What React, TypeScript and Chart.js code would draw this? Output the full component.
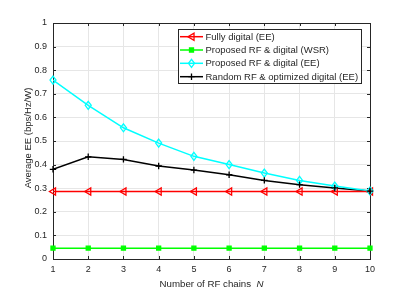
import React, { useEffect, useRef } from "react";
import { Chart, registerables } from "chart.js";

Chart.register(...registerables);

const categories = [1, 2, 3, 4, 5, 6, 7, 8, 9, 10];
const fullyDigital = [0.286, 0.286, 0.286, 0.286, 0.286, 0.286, 0.286, 0.286, 0.286, 0.286];
const proposedWSR = [0.046, 0.046, 0.046, 0.046, 0.046, 0.046, 0.046, 0.046, 0.046, 0.046];
const proposedEE = [0.758, 0.651, 0.556, 0.491, 0.435, 0.4, 0.364, 0.333, 0.309, 0.288];
const randomRF = [0.38, 0.433, 0.422, 0.394, 0.377, 0.357, 0.333, 0.315, 0.301, 0.288];
const yTicks = [0, 0.1, 0.2, 0.3, 0.4, 0.5, 0.6, 0.7, 0.8, 0.9, 1];
const legendLabels = [
  "Fully digital (EE)",
  "Proposed RF & digital (WSR)",
  "Proposed RF & digital (EE)",
  "Random RF & optimized digital (EE)",
];

const FONT = "Liberation Sans, Arial, Helvetica, sans-serif";
const TXT = "#262626";
const STYLES = ["triLeft", "rect", "diamond", "plus"];
const RADII = [3.6, 2, 4, 3.2];

function marker(ctx: any, style: string, x: number, y: number, r: number, color: string, fill: string) {
  ctx.save();
  ctx.strokeStyle = color;
  ctx.fillStyle = fill;
  ctx.lineWidth = 1.3;
  ctx.beginPath();
  if (style === "triLeft") {
    ctx.moveTo(x - r, y);
    ctx.lineTo(x + r * 0.7, y - r);
    ctx.lineTo(x + r * 0.7, y + r);
    ctx.closePath();
    ctx.fill();
    ctx.stroke();
  } else if (style === "rect") {
    ctx.rect(x - r, y - r, 2 * r, 2 * r);
    ctx.fill();
    ctx.stroke();
  } else if (style === "diamond") {
    ctx.moveTo(x, y - r);
    ctx.lineTo(x + r * 0.75, y);
    ctx.lineTo(x, y + r);
    ctx.lineTo(x - r * 0.75, y);
    ctx.closePath();
    ctx.fill();
    ctx.stroke();
  } else {
    ctx.moveTo(x - r, y);
    ctx.lineTo(x + r, y);
    ctx.moveTo(x, y - r);
    ctx.lineTo(x, y + r);
    ctx.stroke();
  }
  ctx.restore();
}

const overlay = {
  id: "overlay",
  beforeDatasetsDraw(chart: any) {
    const { ctx, chartArea: a } = chart;
    ctx.save();
    ctx.strokeStyle = "#262626";
    ctx.lineWidth = 1;
    ctx.strokeRect(Math.round(a.left) + 0.5, Math.round(a.top) + 0.5, Math.round(a.right - a.left), Math.round(a.bottom - a.top));
    const xs = chart.scales.x;
    const ys = chart.scales.y;
    ctx.beginPath();
    categories.forEach((c) => {
      const px = Math.round(xs.getPixelForValue(c)) + 0.5;
      ctx.moveTo(px, a.bottom);
      ctx.lineTo(px, a.bottom - 3);
      ctx.moveTo(px, a.top);
      ctx.lineTo(px, a.top + 3);
    });
    yTicks.forEach((v) => {
      const py = Math.round(ys.getPixelForValue(v)) + 0.5;
      ctx.moveTo(a.left, py);
      ctx.lineTo(a.left + 3, py);
      ctx.moveTo(a.right, py);
      ctx.lineTo(a.right - 3, py);
    });
    ctx.stroke();
    ctx.restore();
  },
  afterDatasetsDraw(chart: any) {
    const { ctx } = chart;
    chart.data.datasets.forEach((ds: any, i: number) => {
      const meta = chart.getDatasetMeta(i);
      meta.data.forEach((pt: any) => {
        marker(ctx, STYLES[i], pt.x, pt.y, RADII[i], ds.borderColor, i === 1 ? ds.borderColor : "rgba(0,0,0,0)");
      });
    });
  },
  afterDraw(chart: any) {
    const { ctx, chartArea: a } = chart;
    ctx.save();
    ctx.fillStyle = TXT;
    ctx.textBaseline = "alphabetic";
    const t1 = "Number of RF chains  ";
    ctx.font = `9.7px ${FONT}`;
    const w1 = ctx.measureText(t1).width;
    ctx.font = `italic 9.7px ${FONT}`;
    const w2 = ctx.measureText("N").width;
    const cx = (a.left + a.right) / 2;
    const x0 = cx - (w1 + w2) / 2;
    ctx.font = `9.7px ${FONT}`;
    ctx.textAlign = "left";
    ctx.fillText(t1, x0, 286.5);
    ctx.font = `italic 9.7px ${FONT}`;
    ctx.fillText("N", x0 + w1, 286.5);
    ctx.save();
    ctx.translate(28, 138);
    ctx.rotate(-Math.PI / 2);
    ctx.font = `9.5px ${FONT}`;
    ctx.textAlign = "center";
    ctx.textBaseline = "middle";
    ctx.fillText("Average EE (bps/Hz/W)", 0, 0);
    ctx.restore();

    const lx = 178, ly = 29.5, lw = 183, lh = 54;
    ctx.fillStyle = "#ffffff";
    ctx.fillRect(lx, ly, lw, lh);
    ctx.strokeStyle = "#262626";
    ctx.lineWidth = 1;
    ctx.strokeRect(lx + 0.5, ly, lw, lh);
    const rows = [36.7, 50, 63.3, 76.7];
    chart.data.datasets.forEach((ds: any, i: number) => {
      const y = rows[i];
      ctx.strokeStyle = ds.borderColor;
      ctx.lineWidth = 1.5;
      ctx.beginPath();
      ctx.moveTo(180, y);
      ctx.lineTo(203, y);
      ctx.stroke();
      marker(ctx, STYLES[i], 191.5, y, RADII[i], ds.borderColor, i === 1 ? ds.borderColor : "rgba(0,0,0,0)");
      ctx.fillStyle = TXT;
      ctx.font = `9.5px ${FONT}`;
      ctx.textAlign = "left";
      ctx.textBaseline = "middle";
      ctx.fillText(legendLabels[i], 205.5, y + 0.5);
    });
    ctx.restore();
  },
};

export default function App() {
  const ref = useRef<HTMLCanvasElement | null>(null);
  useEffect(() => {
    if (!ref.current) return;
    const mk = (label: string, data: number[], color: string) => ({
      label,
      data: data.map((v, i) => ({ x: categories[i], y: v })),
      borderColor: color,
      backgroundColor: color,
      borderWidth: 1.5,
      pointRadius: 0,
      tension: 0,
    });
    const chart = new Chart(ref.current, {
      type: "line",
      data: {
        datasets: [
          mk(legendLabels[0], fullyDigital, "#ff0000"),
          mk(legendLabels[1], proposedWSR, "#00ff00"),
          mk(legendLabels[2], proposedEE, "#00ffff"),
          mk(legendLabels[3], randomRF, "#000000"),
        ] as any,
      },
      options: {
        animation: false,
        responsive: false,
        maintainAspectRatio: false,
        layout: { padding: { top: 23, right: 38, left: 0, bottom: 0 } },
        plugins: { legend: { display: false }, tooltip: { enabled: false } },
        scales: {
          x: {
            type: "linear",
            min: 1,
            max: 10,
            afterBuildTicks: (s: any) => {
              s.ticks = categories.map((v) => ({ value: v }));
            },
            afterFit: (s: any) => {
              s.height = 32;
            },
            grid: { color: "#e6e6e6", drawTicks: false, lineWidth: 1 },
            border: { display: false },
            ticks: { color: TXT, font: { size: 9, family: FONT }, padding: 5, maxRotation: 0 },
          },
          y: {
            min: 0,
            max: 1,
            afterBuildTicks: (s: any) => {
              s.ticks = yTicks.map((v) => ({ value: v }));
            },
            afterFit: (s: any) => {
              s.width = 53;
            },
            grid: { color: "#e6e6e6", drawTicks: false, lineWidth: 1 },
            border: { display: false },
            ticks: { color: TXT, font: { size: 9, family: FONT }, padding: 6, callback: (v: any) => String(+(+v).toFixed(1)) },
          },
        },
      } as any,
      plugins: [overlay],
    });
    return () => chart.destroy();
  }, []);
  return (
    <div style={{ position: "fixed", left: 0, top: 0, width: 408, height: 291, background: "#fff" }}>
      <canvas ref={ref} width={408} height={291} style={{ width: 408, height: 291 }} />
    </div>
  );
}
